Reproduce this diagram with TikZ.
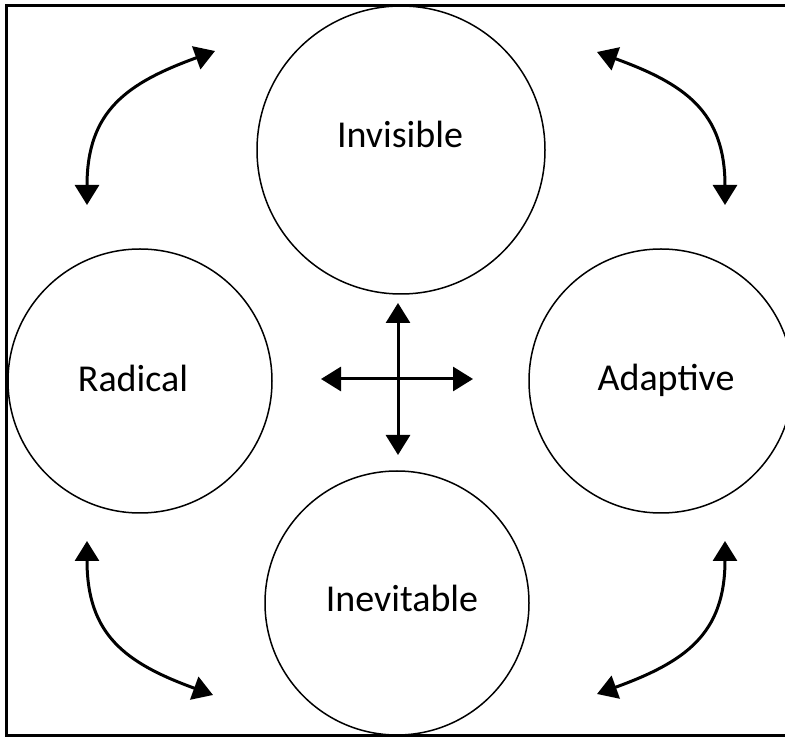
\documentclass[tikz,border=0pt]{standalone}
\usepackage{fontspec}
\setmainfont{Carlito}
\usetikzlibrary{arrows.meta}
\begin{document}
\begin{tikzpicture}[x=1pt,y=1pt,
  ring/.style={draw, circle, line width=1.5pt, inner sep=0pt, minimum size=#1},
  lbl/.style={anchor=base, font=\fontsize{38}{45}\selectfont},
  dbl/.style={line width=3pt, {Triangle[width=24pt,length=20pt]}-{Triangle[width=24pt,length=20pt]}},
  frame/.style={draw, line width=3pt}]
\useasboundingbox (0,0) rectangle (785,737);
\clip (0,0) rectangle (785,737);
\draw[frame] (800,731) -| (6,2) -- (800,2);
% circles
\node[ring=288pt] (top) at (401,587) {};
\node[ring=264pt] (left) at (140,356) {};
\node[ring=264pt] (right) at (661,356) {};
\node[ring=264pt] (bottom) at (397,134) {};
% labels
\node[lbl] (tInv) at (400,589) {Invisible};
\node[lbl] (tRad) at (133,345) {Radical};
\node[lbl] (tAda) at (666,346) {Adaptive};
\node[lbl] (tIne) at (402,125) {Inevitable};
% corner arrows
\coordinate (A) at (87,532);
\coordinate (B) at (215,686);
\coordinate (C) at (597,685);
\coordinate (D) at (725,532);
\coordinate (E) at (87,196);
\coordinate (F) at (213,42);
\coordinate (G) at (725,196);
\coordinate (H) at (597,43);
\draw[dbl] (A) to[out=90,in=200,looseness=1.2] (B);
\draw[dbl] (D) to[out=90,in=-20,looseness=1.2] (C);
\draw[dbl] (E) to[out=-90,in=160,looseness=1.2] (F);
\draw[dbl] (G) to[out=-90,in=20,looseness=1.2] (H);
% central cross
\coordinate (cT) at (398,434);
\coordinate (cB) at (398,282);
\coordinate (cL) at (321,358);
\coordinate (cR) at (473,358);
\draw[dbl] (cT) -- (cB);
\draw[dbl] (cL) -- (cR);
\end{tikzpicture}
\end{document}
